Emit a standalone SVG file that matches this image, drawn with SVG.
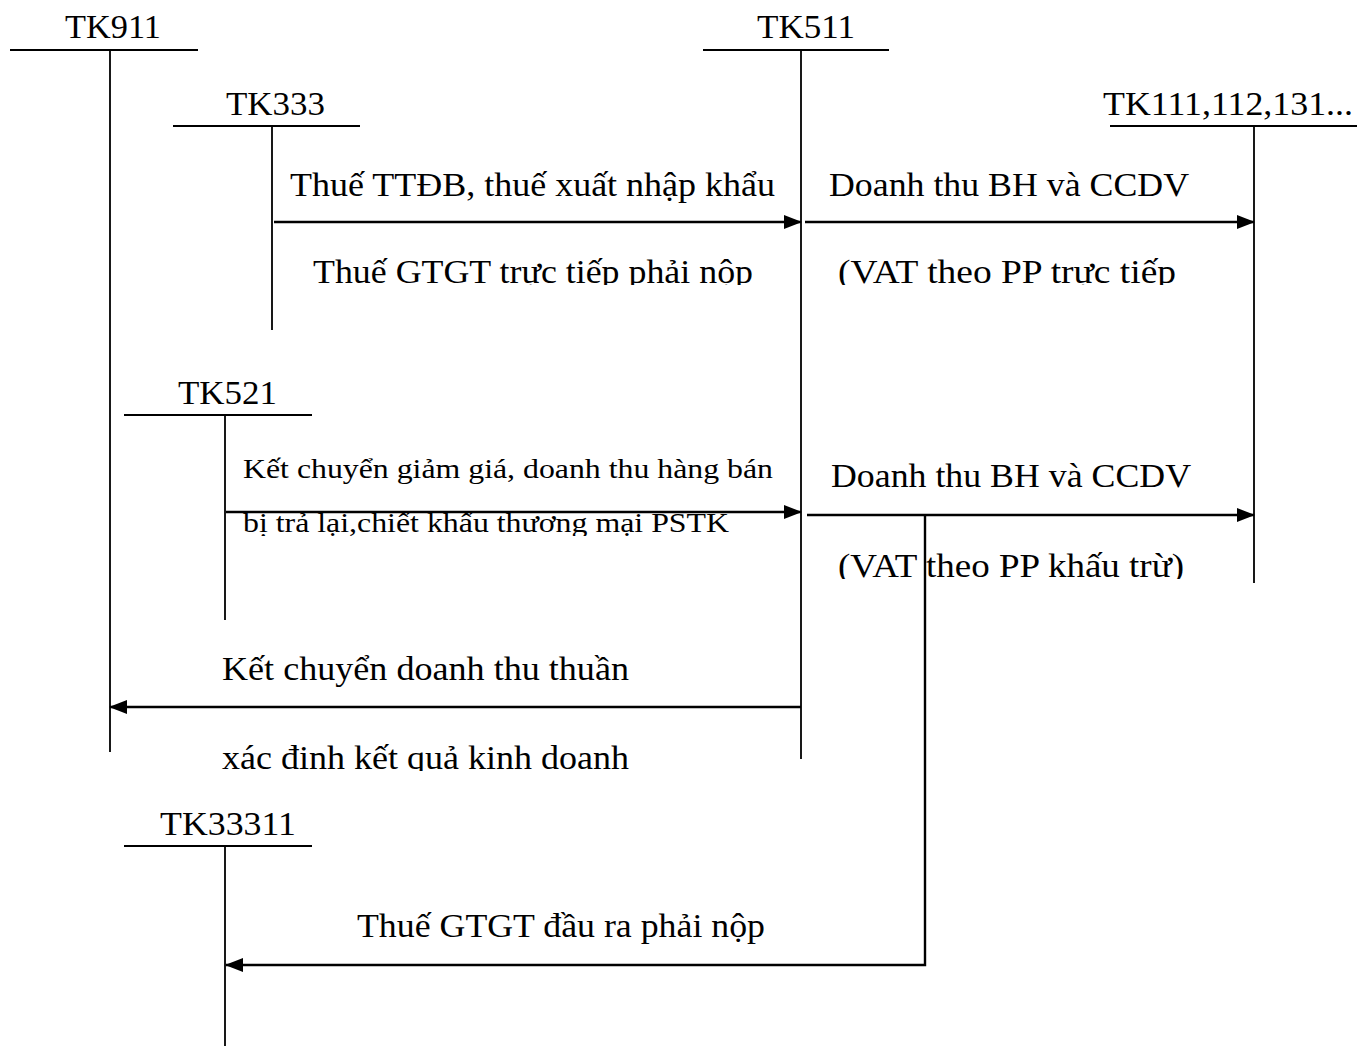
<svg xmlns="http://www.w3.org/2000/svg" width="1357" height="1046" viewBox="0 0 1357 1046">
<style>
text{font-family:"Liberation Serif","Times New Roman",serif;font-size:34px;fill:#000}
.m{text-anchor:middle}
.s{font-size:28px}
.t{stroke:#000;stroke-width:1.8;fill:none}
.a{stroke:#000;stroke-width:2.4;fill:none;marker-end:url(#ah)}
</style>
<defs>
<marker id="ah" markerUnits="userSpaceOnUse" markerWidth="18" markerHeight="14" refX="17" refY="7" orient="auto">
<path d="M0,0 L18,7 L0,14 Z" fill="#000"/>
</marker>
<clipPath id="c1"><rect x="0" y="0" width="1357" height="285"/></clipPath>
<clipPath id="c2"><rect x="0" y="0" width="1357" height="536"/></clipPath>
<clipPath id="c3"><rect x="0" y="0" width="1357" height="579"/></clipPath>
<clipPath id="c4"><rect x="0" y="0" width="1357" height="771"/></clipPath>
</defs>
<rect width="1357" height="1046" fill="#fff"/>
<g id="tk911"><text x="65" y="38" textLength="96" lengthAdjust="spacingAndGlyphs">TK911</text><path class="t" d="M10,50 H198 M110,50 V752"/></g>
<g id="tk511"><text x="757" y="38" textLength="98" lengthAdjust="spacingAndGlyphs">TK511</text><path class="t" d="M703,50 H889 M801,50 V759"/></g>
<g id="tk333"><text x="226" y="115" textLength="99" lengthAdjust="spacingAndGlyphs">TK333</text><path class="t" d="M173,126 H360 M272,126 V330"/></g>
<g id="tk111"><text x="1103" y="115" textLength="250" lengthAdjust="spacingAndGlyphs">TK111,112,131...</text><path class="t" d="M1110,126 H1357 M1254,126 V583"/></g>
<g id="tk521"><text x="178" y="404" textLength="99" lengthAdjust="spacingAndGlyphs">TK521</text><path class="t" d="M124,415 H312 M225,415 V620"/></g>
<g id="tk33311"><text x="160" y="835" textLength="136" lengthAdjust="spacingAndGlyphs">TK33311</text><path class="t" d="M124,846 H312 M225,846 V1046"/></g>
<g id="connectors">
<path class="a" d="M274,222 H801"/>
<path class="a" d="M805,222 H1254"/>
<path class="a" d="M226,512 H801"/>
<path class="a" d="M807,515 H1254"/>
<path class="a" d="M801,707 H110"/>
<path class="a" d="M925,515 V965 H226"/>
</g>
<g id="labels">
<text x="290" y="196" textLength="485" lengthAdjust="spacingAndGlyphs">Thuế TTĐB, thuế xuất nhập khẩu</text>
<text x="313" y="283" textLength="440" lengthAdjust="spacingAndGlyphs" clip-path="url(#c1)">Thuế GTGT trực tiếp phải nộp</text>
<text x="829" y="196" textLength="360" lengthAdjust="spacingAndGlyphs">Doanh thu BH và CCDV</text>
<text x="838" y="283" textLength="338" lengthAdjust="spacingAndGlyphs" clip-path="url(#c1)">(VAT theo PP trực tiếp</text>
<text class="s" x="243" y="478" textLength="530" lengthAdjust="spacingAndGlyphs">Kết chuyển giảm giá, doanh thu hàng bán</text>
<text class="s" x="243" y="532" textLength="486" lengthAdjust="spacingAndGlyphs" clip-path="url(#c2)">bị trả lại,chiết khấu thương mại PSTK</text>
<text x="831" y="487" textLength="360" lengthAdjust="spacingAndGlyphs">Doanh thu BH và CCDV</text>
<text x="838" y="577" textLength="346" lengthAdjust="spacingAndGlyphs" clip-path="url(#c3)">(VAT theo PP khấu trừ)</text>
<text x="222" y="680" textLength="407" lengthAdjust="spacingAndGlyphs">Kết chuyển doanh thu thuần</text>
<text x="222" y="769" textLength="407" lengthAdjust="spacingAndGlyphs" clip-path="url(#c4)">xác định kết quả kinh doanh</text>
<text x="357" y="937" textLength="408" lengthAdjust="spacingAndGlyphs">Thuế GTGT đầu ra phải nộp</text>
</g>
</svg>
